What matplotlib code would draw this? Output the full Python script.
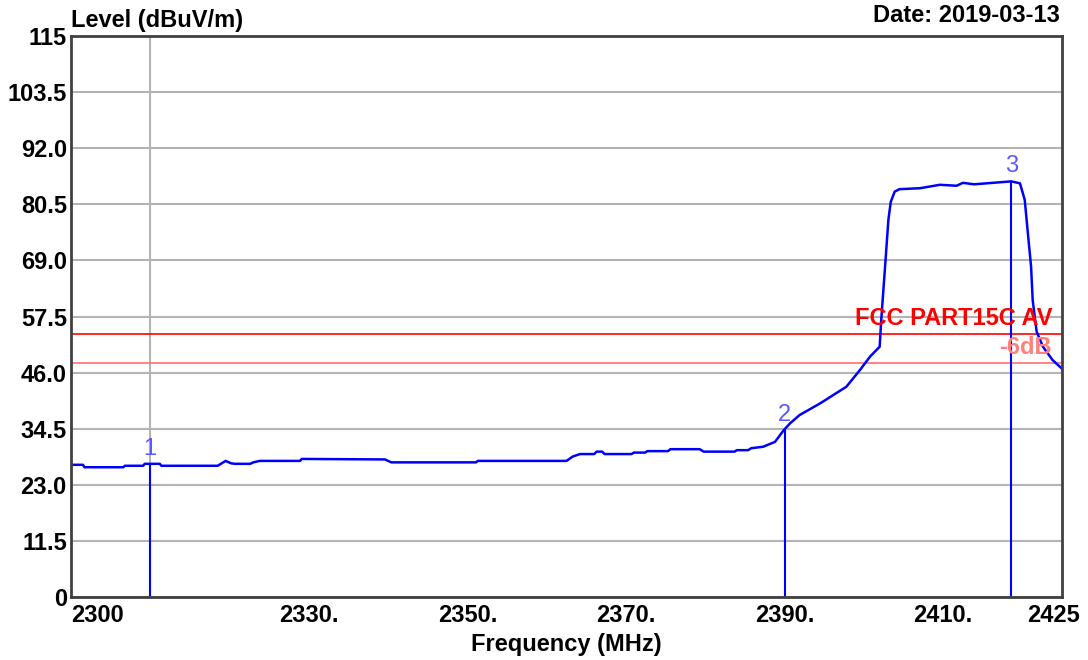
import matplotlib
matplotlib.use('Agg')
import matplotlib.pyplot as plt
import matplotlib.transforms as mtransforms

plt.rcParams['font.family'] = ['Liberation Sans', 'DejaVu Sans']

# trace
freq = [2300.0, 2301.5, 2301.7, 2306.6, 2306.8, 2309.1, 2309.3, 2311.2, 2311.4, 2318.5,
        2319.0, 2319.5, 2320.2, 2320.7, 2322.6, 2323.0, 2323.8, 2328.9, 2329.1, 2339.6,
        2340.4, 2351.1, 2351.3, 2362.5, 2363.3, 2364.2, 2366.0, 2366.3, 2367.0, 2367.3,
        2370.7, 2371.0, 2372.4, 2372.7, 2375.3, 2375.6, 2379.3, 2379.8, 2383.7, 2384.0,
        2385.4, 2385.8, 2387.3, 2388.8, 2389.9, 2390.7, 2391.9, 2394.5, 2397.8, 2399.5,
        2400.8, 2402.0, 2402.2, 2402.5, 2402.8, 2403.1, 2403.4, 2403.9, 2404.5, 2407.1,
        2409.6, 2411.7, 2412.5, 2413.9, 2415.5, 2418.6, 2419.7, 2420.3, 2420.7, 2421.1,
        2421.3, 2421.8, 2422.6, 2423.8, 2425.0]
level = [27.1, 27.1, 26.6, 26.6, 26.9, 26.9, 27.3, 27.3, 26.9, 26.9,
         27.4, 27.9, 27.4, 27.3, 27.3, 27.6, 27.9, 27.9, 28.3, 28.2,
         27.6, 27.6, 27.9, 27.9, 28.8, 29.3, 29.3, 29.8, 29.8, 29.3,
         29.3, 29.6, 29.6, 29.9, 29.9, 30.3, 30.3, 29.8, 29.8, 30.1,
         30.1, 30.5, 30.8, 31.8, 34.2, 35.6, 37.3, 39.7, 43.1, 46.5,
         49.3, 51.3, 56.8, 63.6, 70.4, 77.3, 81.0, 83.1, 83.6, 83.8,
         84.5, 84.3, 84.9, 84.6, 84.8, 85.2, 84.8, 81.4, 74.5, 67.7,
         60.9, 54.4, 51.3, 48.6, 46.8]

marker_ids = ['1', '2', '3']
marker_freq = [2310.0, 2390.0, 2418.6]
marker_level = [27.3, 34.2, 85.2]

limit_av = 54.0
limit_margin = 48.0

x_ticks = [2300, 2330, 2350, 2370, 2390, 2410, 2425]
x_tick_labels = ['2300', '2330.', '2350.', '2370.', '2390.', '2410.', '2425']
x_grid = [2310, 2330, 2350, 2370, 2390, 2410]
y_ticks = [0, 11.5, 23.0, 34.5, 46.0, 57.5, 69.0, 80.5, 92.0, 103.5, 115]
y_tick_labels = ['0', '11.5', '23.0', '34.5', '46.0', '57.5', '69.0', '80.5', '92.0', '103.5', '115']

FS = 17

fig = plt.figure(figsize=(10.88, 6.6), dpi=100)
ax = fig.add_axes([71 / 1088, 1 - 597 / 660, 991 / 1088, 561 / 660])

# grid
ax.set_xticks(x_grid, minor=True)
ax.set_yticks(y_ticks)
ax.set_yticklabels(y_tick_labels)
ax.set_xticks(x_ticks)
ax.set_xticklabels(x_tick_labels)
ax.grid(which='minor', axis='x', color='#b4b4b4', lw=1.5)
ax.grid(which='major', axis='y', color='#b4b4b4', lw=1.5)
ax.set_axisbelow(True)

# limit lines
ax.axhline(limit_av, color='#ff0000', lw=1.2)
ax.axhline(limit_margin, color='#ff7070', lw=1.2)
ax.text(0.99, 55.7, 'FCC PART15C AV', color='#ff0000', fontsize=FS, fontweight='bold',
        ha='right', va='baseline', transform=ax.get_yaxis_transform())
ax.text(0.99, 49.8, '-6dB', color='#ff7f7f', fontsize=FS, fontweight='bold',
        ha='right', va='baseline', transform=ax.get_yaxis_transform())

# trace
ax.plot(freq, level, color='#0000ff', lw=1.8)

# markers
ax.vlines(marker_freq, 0, marker_level, color='#0000ff', lw=1.5)
for mid, mf, ml in zip(marker_ids, marker_freq, marker_level):
    ax.annotate(mid, (mf, ml), xytext=(0, 3), textcoords='offset points',
                ha='center', va='bottom', fontsize=17, color='#5a5aff')

ax.set_xlim(2300, 2425)
ax.set_ylim(0, 115)

ax.tick_params(which='both', length=0)
ax.tick_params(axis='y', pad=3, labelsize=FS)
ax.tick_params(axis='x', pad=5, labelsize=FS)
for lab in ax.get_yticklabels() + ax.get_xticklabels():
    lab.set_fontweight('bold')
xl = ax.get_xticklabels()
xl[0].set_ha('left')
xl[-1].set_transform(xl[-1].get_transform() +
                     mtransforms.ScaledTranslation(-9 / 100, 0, fig.dpi_scale_trans))

for sp in ax.spines.values():
    sp.set_color('#404040')
    sp.set_linewidth(2)

ax.set_xlabel('Frequency (MHz)', fontsize=FS, fontweight='bold', labelpad=4)
fig.text(71 / 1088, 1 - 27 / 660, 'Level (dBuV/m)', fontsize=FS, fontweight='bold',
         ha='left', va='baseline')
fig.text(1060 / 1088, 1 - 22 / 660, 'Date: 2019-03-13', fontsize=FS, fontweight='bold',
         ha='right', va='baseline')

fig.savefig('out.png', dpi=100)
